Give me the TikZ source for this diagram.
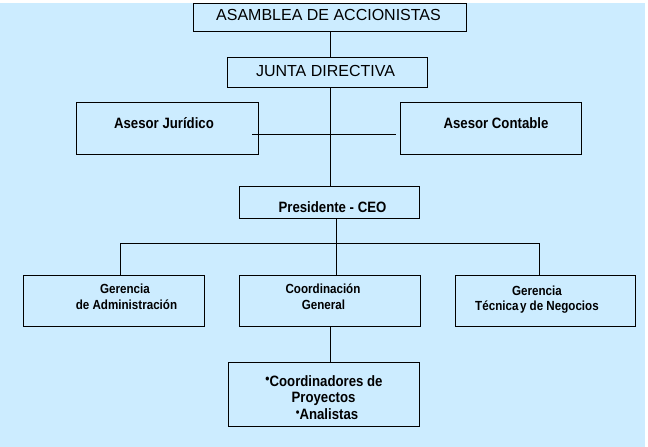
\documentclass[tikz,border=0pt]{standalone}
\usepackage{fontspec}
\setmainfont{Liberation Sans}
\newfontfamily\narrowsans{Liberation Sans}[FakeStretch=0.88]
\definecolor{bgblue}{HTML}{CCECFF}
\begin{document}
\begin{tikzpicture}[x=1pt,y=-1pt,
  box/.style={draw=black,line width=1pt,fill=bgblue,inner sep=0pt,outer sep=0pt},
  big/.style={font=\fontsize{16}{18}\selectfont,anchor=base,inner sep=0pt},
  small/.style={font=\narrowsans\bfseries\fontsize{15}{17}\selectfont,anchor=base,inner sep=0pt},
  smaller/.style={font=\narrowsans\bfseries\fontsize{13.2}{15}\selectfont,anchor=base,inner sep=0pt},
  link/.style={line width=1pt,draw=black}]
\useasboundingbox (0,0) rectangle (648,447);
\fill[white] (0,0) rectangle (648,447);
\fill[bgblue] (0,3) rectangle (645,447);
% boxes
\node[box,minimum width=273pt,minimum height=28pt] (asam) at (329.5,17) {};
\node[box,minimum width=200pt,minimum height=30pt] (junta) at (327,72) {};
\node[box,minimum width=182pt,minimum height=52pt] (jur) at (167,128) {};
\node[box,minimum width=181pt,minimum height=52pt] (cont) at (490.5,128) {};
\node[box,minimum width=180pt,minimum height=32pt] (pres) at (329,202) {};
\node[box,minimum width=181pt,minimum height=51pt] (adm) at (113.5,300.5) {};
\node[box,minimum width=181pt,minimum height=51pt] (coord) at (329.5,300.5) {};
\node[box,minimum width=180pt,minimum height=51pt] (tec) at (545,300.5) {};
\node[box,minimum width=191pt,minimum height=64pt] (coordi) at (323.5,394) {};
% texts
\node[big] (tasam) at (328.5,20) {ASAMBLEA DE ACCIONISTAS};
\node[big] (tjunta) at (325.5,76) {JUNTA DIRECTIVA};
\node[small] (tjur) at (164,128) {Asesor Jurídico};
\node[small] (tcont) at (496,128) {Asesor Contable};
\node[small] (tpres) at (332.5,212) {Presidente - CEO};
\node[smaller] (tadma) at (125,293) {Gerencia};
\node[smaller] (tadmb) at (126.5,309) {de Administración};
\node[smaller] (tcoa) at (323,293) {Coordinación};
\node[smaller] (tcob) at (323.5,309) {General};
\node[smaller] (ttea) at (537,295) {Gerencia};
\node[smaller] (tteb) at (537,310) {Técnica\hspace{1.5pt}y de Negocios};
\node[small] (tcia) at (324,386) {\raisebox{2.5pt}{\scalebox{0.9}{•}}Coordinadores de};
\node[small] (tcib) at (323.5,402.5) {Proyectos};
\node[small] (tcic) at (327,419) {\raisebox{2.5pt}{\scalebox{0.8}{•}}Analistas};
% connector coordinates
\coordinate (sp1) at (330,31);
\coordinate (sp2) at (330,57);
\coordinate (sp3) at (330,87);
\coordinate (sp4) at (330,186);
\coordinate (ja) at (252,134);
\coordinate (ca) at (396,134);
\coordinate (p1) at (336,218);
\coordinate (hl) at (120,243);
\coordinate (hm) at (336,243);
\coordinate (hr) at (539,243);
\coordinate (c1) at (330,326);
\coordinate (c2) at (330,362);
% connectors
\draw[link] (sp1) -- (sp2);
\draw[link] (sp3) -- (sp4);
\draw[link] (ja) -- (ca);
\draw[link] (p1) -- (hm);
\draw[link] (hl) -- (hr);
\draw[link] (hl) -- (hl |- adm.north);
\draw[link] (hm) -- (hm |- coord.north);
\draw[link] (hr) -- (hr |- tec.north);
\draw[link] (c1) -- (c2);
\end{tikzpicture}
\end{document}
